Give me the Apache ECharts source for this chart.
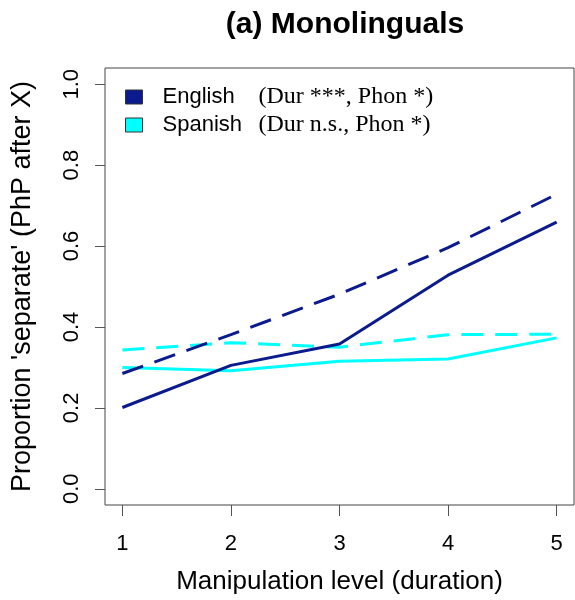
<!DOCTYPE html>
<html>
<head>
<meta charset="utf-8">
<script src="https://cdn.jsdelivr.net/npm/echarts@6/dist/echarts.min.js"></script>
<style>
  html, body { margin: 0; padding: 0; background: #fff; }
  #chart { width: 575px; height: 600px; }
</style>
</head>
<body>
<div id="chart"></div>
<script>
// manipulation levels (x) and tick labels
const levels = [1, 2, 3, 4, 5];
const yTicks = [0, 0.2, 0.4, 0.6, 0.8, 1.0];

// proportions
const englishSolid = [0.201, 0.305, 0.358, 0.528, 0.659];
const englishDashed = [0.285, 0.381, 0.481, 0.596, 0.728];
const spanishSolid = [0.300, 0.292, 0.315, 0.321, 0.373];
const spanishDashed = [0.343, 0.361, 0.350, 0.381, 0.382];

const groups = ["English", "Spanish"];
const notes = ["(Dur ***, Phon *)", "(Dur n.s., Phon *)"];

const NAVY = "#0b1a8c";
const CYAN = "#00ffff";
const SANS = "Liberation Sans, Arial, sans-serif";
const SERIF = "Liberation Serif, Times New Roman, serif";

const pairs = (vals) => levels.map((x, i) => [x, vals[i]]);

const chart = echarts.init(document.getElementById("chart"), null, { renderer: "canvas" });

// build a line series, dashed or not
function lineSeries(name, color, vals, dashed) {
  return {
    name: name,
    type: "line",
    data: pairs(vals),
    symbol: "none",
    silent: true,
    itemStyle: { color: color },
    lineStyle: {
      color: color,
      width: 3,
      type: dashed ? [22, 12] : "solid",
      cap: "butt",
    },
  };
}

chart.setOption({
  animation: false,
  title: {
    text: "(a) Monolinguals",
    left: 340,
    textAlign: "center",
    top: 5,
    textStyle: { fontFamily: SANS, fontWeight: "bold", fontSize: 30, color: "#000" },
  },
  grid: {
    left: 105,
    right: 1,
    top: 68,
    bottom: 93,
    show: true,
    borderColor: "#444",
    borderWidth: 1,
    backgroundColor: "transparent",
  },
  legend: {
    left: 125,
    top: 85,
    padding: 0,
    orient: "vertical",
    icon: "rect",
    itemWidth: 17,
    itemHeight: 14,
    itemGap: 4,
    selectedMode: false,
    data: groups.map((g, i) => ({
      name: g,
      itemStyle: { color: i === 0 ? NAVY : CYAN, borderColor: "#333", borderWidth: 1 },
    })),
    formatter: (name) => `{n|${name}}{s|${notes[groups.indexOf(name)]}}`,
    textStyle: {
      rich: {
        n: { fontFamily: SANS, fontSize: 22, color: "#000", width: 96, padding: [0, 0, 0, 15], lineHeight: 24 },
        s: { fontFamily: SERIF, fontSize: 24, color: "#000", lineHeight: 24 },
      },
    },
  },
  xAxis: {
    type: "value",
    min: 0.84,
    max: 5.16,
    name: "Manipulation level (duration)",
    nameLocation: "middle",
    nameGap: 64,
    nameTextStyle: { fontFamily: SANS, fontSize: 26, color: "#000" },
    axisLine: { show: false, onZero: false },
    splitLine: { show: false },
    axisTick: { show: true, length: 11, customValues: levels, lineStyle: { color: "#555" } },
    axisLabel: {
      customValues: levels,
      margin: 28,
      fontFamily: SANS,
      fontSize: 22,
      color: "#000",
    },
  },
  yAxis: {
    type: "value",
    min: -0.04,
    max: 1.04,
    name: "Proportion 'separate' (PhP after X)",
    nameLocation: "middle",
    nameGap: 69,
    nameTextStyle: { fontFamily: SANS, fontSize: 27, color: "#000" },
    axisLine: { show: false, onZero: false },
    splitLine: { show: false },
    axisTick: { show: true, length: 10, customValues: yTicks, lineStyle: { color: "#555" } },
    axisLabel: {
      customValues: yTicks,
      rotate: 90,
      margin: 22,
      fontFamily: SANS,
      fontSize: 22,
      color: "#000",
      formatter: (v) => v.toFixed(1),
    },
  },
  series: [
    lineSeries("Spanish", CYAN, spanishDashed, true),
    lineSeries("Spanish", CYAN, spanishSolid, false),
    lineSeries("English", NAVY, englishDashed, true),
    lineSeries("English", NAVY, englishSolid, false),
  ],
});
</script>
</body>
</html>
